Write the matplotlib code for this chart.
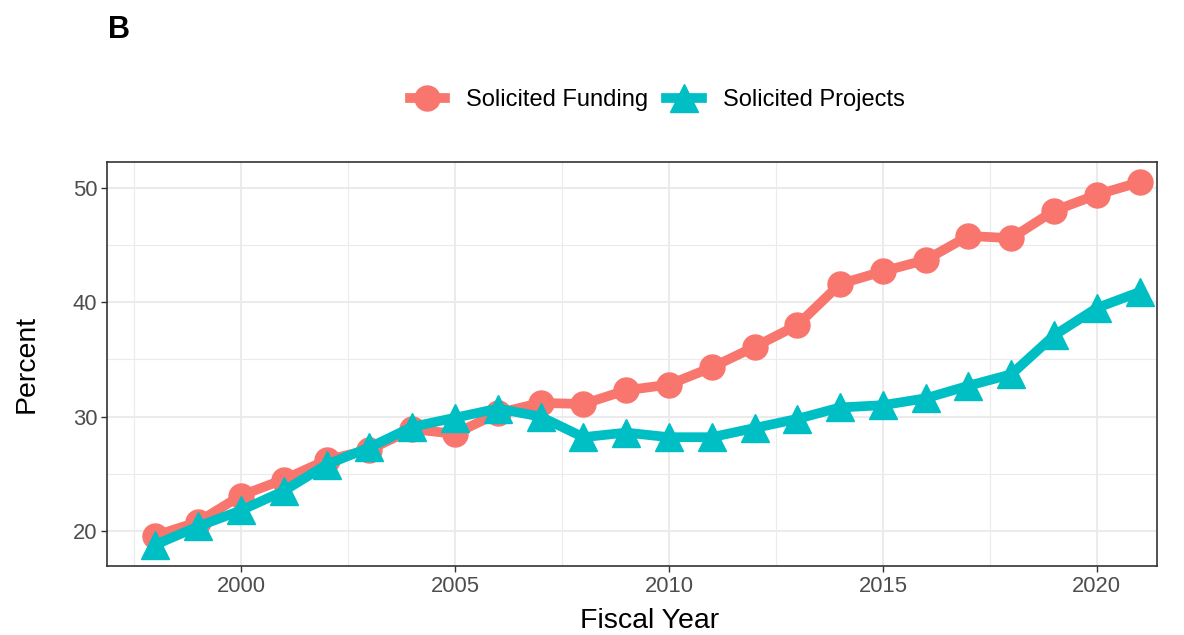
import matplotlib
matplotlib.use("Agg")
import matplotlib.pyplot as plt
from matplotlib.ticker import MultipleLocator

years = list(range(1998, 2022))
funding = [19.6, 20.8, 23.1, 24.5, 26.2, 27.1, 28.9, 28.5, 30.3, 31.2, 31.1, 32.3,
           32.8, 34.3, 36.1, 38.0, 41.6, 42.7, 43.7, 45.8, 45.6, 48.0, 49.4, 50.5]
projects = [18.8, 20.4, 21.8, 23.5, 25.8, 27.3, 29.1, 29.9, 30.7, 30.0, 28.2, 28.6,
            28.2, 28.2, 29.0, 29.8, 30.8, 31.0, 31.6, 32.7, 33.7, 37.1, 39.5, 40.9]

RED = "#F8766D"
TEAL = "#00BFC4"

plt.rcParams.update({"font.family": "Liberation Sans"})

fig = plt.figure(figsize=(11.84, 6.35), dpi=100)
ax = fig.add_axes([0.0904, 0.1087, 0.8866, 0.6363])

ax.plot(years, funding, color=RED, linewidth=7, marker="o", markersize=18,
        label="Solicited Funding", zorder=3)
ax.plot(years, projects, color=TEAL, linewidth=7, marker="^", markersize=20,
        label="Solicited Projects", zorder=3)

ax.set_xlim(1996.87, 2021.4)
ax.set_ylim(16.94, 52.27)
ax.xaxis.set_major_locator(MultipleLocator(5))
ax.xaxis.set_minor_locator(MultipleLocator(2.5))
ax.yaxis.set_major_locator(MultipleLocator(10))
ax.yaxis.set_minor_locator(MultipleLocator(5))
ax.grid(which="major", color="#EBEBEB", linewidth=1.5)
ax.grid(which="minor", color="#EBEBEB", linewidth=0.8)
ax.set_axisbelow(True)
ax.tick_params(which="major", length=4, color="#333333", labelsize=15.8,
               labelcolor="#4D4D4D", width=1, pad=3)
ax.tick_params(which="minor", length=0)
for s in ax.spines.values():
    s.set_color("#333333")
    s.set_linewidth(1.2)

ax.set_xlabel("Fiscal Year", fontsize=20.5, labelpad=8, x=0.517)
ax.set_ylabel("Percent", fontsize=20.5, labelpad=24)

fig.legend(loc="center", bbox_to_anchor=(0.555, 0.842), ncol=2, frameon=False,
           fontsize=17, handlelength=1.5, columnspacing=0.75, handletextpad=0.9)
fig.text(0.091, 0.952, "B", fontsize=22, fontweight="bold", va="center", ha="left")

fig.savefig("out.png", dpi=100)
